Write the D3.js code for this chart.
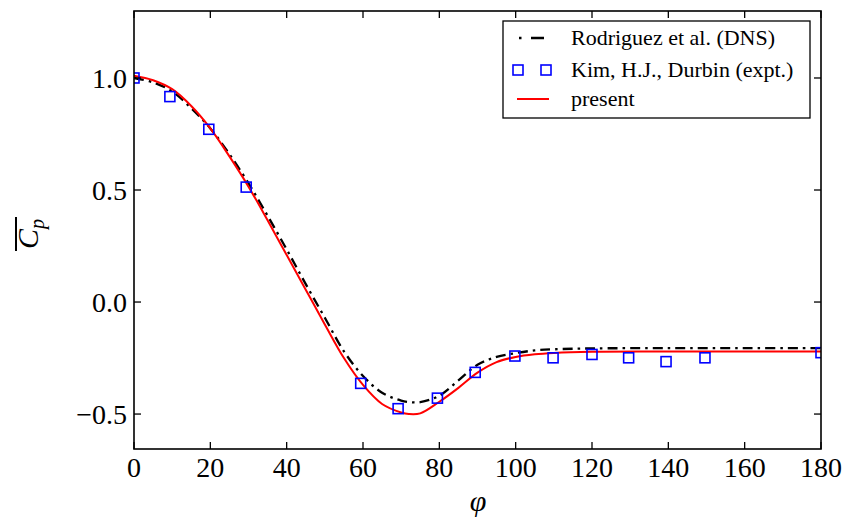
<!DOCTYPE html>
<html lang="en">
<head>
<meta charset="UTF-8">
<title>Mean pressure coefficient</title>
<script src="https://d3js.org/d3.v7.min.js"></script>
<style>
  body { margin: 0; background: #fff; }
  svg { display: block; font-family: "Liberation Serif", "DejaVu Serif", serif; }
  .tick-label { font-size: 28px; fill: #000; }
  .legend-text { font-size: 22px; fill: #000; }
</style>
</head>
<body>
<svg id="chart" width="842" height="520"></svg>
<script>
// curves (phi in degrees)
const curvePhi   = [0, 5, 10, 15, 20, 25, 30, 35, 40, 45, 50, 55, 60, 65, 70, 72, 75, 80, 85, 90, 95, 100, 105, 110, 120, 140, 160, 180];
const presentCp  = [1.01, 0.99, 0.95, 0.875, 0.775, 0.65, 0.515, 0.365, 0.21, 0.055, -0.10, -0.25, -0.37, -0.455, -0.493, -0.50, -0.497, -0.445, -0.383, -0.315, -0.268, -0.245, -0.233, -0.227, -0.222, -0.221, -0.221, -0.221];
const dnsCp      = [1.0, 0.98, 0.94, 0.865, 0.775, 0.66, 0.53, 0.385, 0.235, 0.08, -0.07, -0.22, -0.33, -0.405, -0.44, -0.446, -0.447, -0.418, -0.35, -0.28, -0.245, -0.228, -0.216, -0.211, -0.207, -0.206, -0.206, -0.206];
// experiment
const exptPhi    = [0, 9.4, 19.6, 29.4, 59.4, 69.2, 79.5, 89.4, 99.8, 109.8, 120, 129.6, 139.4, 149.6, 180];
const exptCp     = [1.0, 0.917, 0.771, 0.513, -0.363, -0.476, -0.429, -0.314, -0.241, -0.249, -0.234, -0.249, -0.266, -0.249, -0.226];
// ticks
const xTicks     = [0, 20, 40, 60, 80, 100, 120, 140, 160, 180];
const yTicks     = [-0.5, 0.0, 0.5, 1.0];
const legendLabels = ["Rodriguez et al. (DNS)", "Kim, H.J., Durbin (expt.)", "present"];

const svg = d3.select("#chart");
const L = 134, R = 821, T = 11, B = 449;

const x = d3.scaleLinear().domain([0, 180]).range([L, R]);
const y = d3.scaleLinear().domain([-0.656, 1.299]).range([B, T]);

svg.append("defs").append("clipPath").attr("id", "plotclip")
  .append("rect").attr("x", L).attr("y", T).attr("width", R - L).attr("height", B - T);

const plot = svg.append("g").attr("clip-path", "url(#plotclip)");

const line = d3.line().x(d => x(d[0])).y(d => y(d[1])).curve(d3.curveCatmullRom);

// DNS dash-dot
plot.append("path")
  .datum(curvePhi.map((p, i) => [p, dnsCp[i]]))
  .attr("d", line).attr("fill", "none")
  .attr("stroke", "#000").attr("stroke-width", 2.3)
  .attr("stroke-dasharray", "10,5,2.5,5");

// present
plot.append("path")
  .datum(curvePhi.map((p, i) => [p, presentCp[i]]))
  .attr("d", line).attr("fill", "none")
  .attr("stroke", "#ff0000").attr("stroke-width", 2);

// experiment squares
const sq = 10;
plot.selectAll("rect.expt")
  .data(exptPhi.map((p, i) => [p, exptCp[i]]))
  .enter().append("rect").attr("class", "expt")
  .attr("x", d => x(d[0]) - sq / 2).attr("y", d => y(d[1]) - sq / 2)
  .attr("width", sq).attr("height", sq)
  .attr("fill", "none").attr("stroke", "#0000ff").attr("stroke-width", 1.6);

// axes frame
svg.append("rect").attr("x", L).attr("y", T).attr("width", R - L).attr("height", B - T)
  .attr("fill", "none").attr("stroke", "#000").attr("stroke-width", 1.6);

// ticks (inward, all four sides)
const tl = 7;
const axes = svg.append("g").attr("stroke", "#000").attr("stroke-width", 1.3);
xTicks.forEach(t => {
  axes.append("line").attr("x1", x(t)).attr("x2", x(t)).attr("y1", B).attr("y2", B - tl);
  axes.append("line").attr("x1", x(t)).attr("x2", x(t)).attr("y1", T).attr("y2", T + tl);
});
yTicks.forEach(t => {
  axes.append("line").attr("x1", L).attr("x2", L + tl).attr("y1", y(t)).attr("y2", y(t));
  axes.append("line").attr("x1", R).attr("x2", R - tl).attr("y1", y(t)).attr("y2", y(t));
});

svg.selectAll("text.xt").data(xTicks).enter().append("text")
  .attr("class", "tick-label").attr("x", d => x(d)).attr("y", B + 28)
  .attr("text-anchor", "middle").text(d => d);

svg.selectAll("text.yt").data(yTicks).enter().append("text")
  .attr("class", "tick-label").attr("x", L - 7).attr("y", d => y(d) + 10)
  .attr("text-anchor", "end")
  .text(d => (d < 0 ? "\u2212" : "") + Math.abs(d).toFixed(1));

// axis labels
svg.append("text").attr("x", 478).attr("y", 511)
  .attr("text-anchor", "middle").style("font-size", "30px").style("font-style", "italic")
  .text("\u03c6");

const yl = svg.append("g").attr("transform", "translate(38,234) rotate(-90)");
const ylt = yl.append("text").attr("x", 0).attr("y", 0).attr("text-anchor", "middle")
  .style("font-size", "30px").style("font-style", "italic");
ylt.append("tspan").text("C");
ylt.append("tspan").attr("dy", 6).style("font-size", "20px").text("p");
yl.append("line").attr("x1", -17).attr("x2", 17).attr("y1", -22).attr("y2", -22)
  .attr("stroke", "#000").attr("stroke-width", 2);

// legend
const lg = svg.append("g");
lg.append("rect").attr("x", 503).attr("y", 21).attr("width", 307).attr("height", 97)
  .attr("fill", "#fff").attr("stroke", "#000").attr("stroke-width", 1.3);
const rows = [38, 70, 99];
lg.append("line").attr("x1", 519).attr("x2", 545).attr("y1", rows[0]).attr("y2", rows[0])
  .attr("stroke", "#000").attr("stroke-width", 2.3).attr("stroke-dasharray", "2.5,9.5,13,40");
[518, 546].forEach(cx => {
  lg.append("rect").attr("x", cx - 5).attr("y", rows[1] - 5).attr("width", 10).attr("height", 10)
    .attr("fill", "none").attr("stroke", "#0000ff").attr("stroke-width", 1.6);
});
lg.append("line").attr("x1", 517).attr("x2", 549).attr("y1", rows[2]).attr("y2", rows[2])
  .attr("stroke", "#ff0000").attr("stroke-width", 2);
legendLabels.forEach((t, i) => {
  lg.append("text").attr("class", "legend-text").attr("x", 571).attr("y", rows[i] + 7).text(t);
});
</script>
</body>
</html>
